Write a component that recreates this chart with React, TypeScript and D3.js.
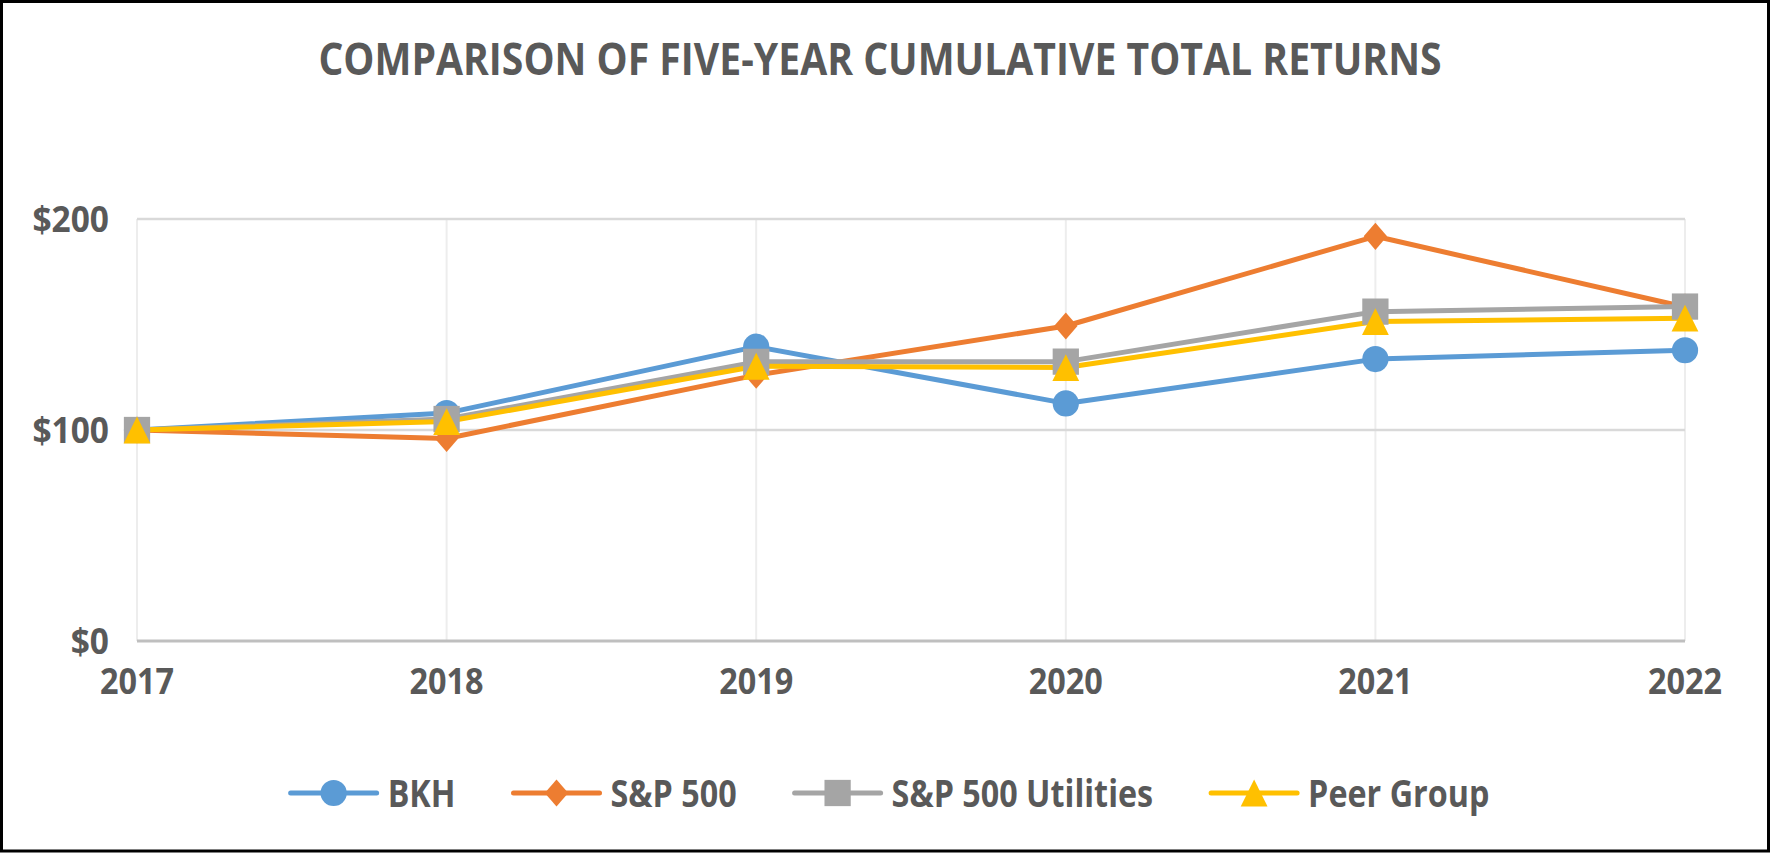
import * as d3 from "d3";
import React, { useEffect, useRef } from "react";

const years = ["2017", "2018", "2019", "2020", "2021", "2022"];
const seriesNames = ["BKH", "S&P 500", "S&P 500 Utilities", "Peer Group"];
const bkh = [100, 108, 139.5, 112.6, 133.6, 137.8];
const sp500 = [100, 96, 126, 149.3, 191.8, 158.3];
const utilities = [100, 105.2, 132.3, 132.4, 156.1, 158.5];
const peerGroup = [100, 104, 130.2, 129.6, 151.4, 153];
const yTicks = [0, 100, 200];
const title = "COMPARISON OF FIVE-YEAR CUMULATIVE TOTAL RETURNS";

const W = 1772;
const H = 854;
const FONT = "'Open Sans', sans-serif";
const TEXT = "#595959";

// custom marker shapes (Excel style: box-centred triangle, upright diamond)
const triangle = {
  draw(ctx: any, size: number) {
    const s = Math.sqrt(size);
    ctx.moveTo(0, -s / 2);
    ctx.lineTo(s / 2, s / 2);
    ctx.lineTo(-s / 2, s / 2);
    ctx.closePath();
  },
};
const diamond = {
  draw(ctx: any, size: number) {
    const s = Math.sqrt(size);
    ctx.moveTo(0, -s / 2);
    ctx.lineTo(s * 0.43, 0);
    ctx.lineTo(0, s / 2);
    ctx.lineTo(-s * 0.43, 0);
    ctx.closePath();
  },
};

const series = [
  { name: seriesNames[0], values: bkh, color: "#5B9BD5", shape: d3.symbolCircle, size: 540 },
  { name: seriesNames[1], values: sp500, color: "#ED7D31", shape: diamond, size: 740 },
  { name: seriesNames[2], values: utilities, color: "#A5A5A5", shape: d3.symbolSquare, size: 690 },
  { name: seriesNames[3], values: peerGroup, color: "#FFC000", shape: triangle, size: 720 },
];

// squeeze Open Sans towards the narrower Calibri look
const condense = (factor: number) => (sel: d3.Selection<SVGTextElement, any, any, any>) => {
  sel.each(function () {
    const len = this.getComputedTextLength();
    d3.select(this)
      .attr("textLength", len * factor)
      .attr("lengthAdjust", "spacingAndGlyphs");
  });
};

const App: React.FC = () => {
  const ref = useRef<SVGSVGElement>(null);

  useEffect(() => {
    if (!ref.current) return;
    const svg = d3.select(ref.current);
    svg.selectAll("*").remove();

    const margin = { top: 219, right: 87, bottom: 213, left: 137 };
    const width = W - margin.left - margin.right;
    const height = H - margin.top - margin.bottom;

    svg.append("rect")
      .attr("x", 1.5).attr("y", 1.5)
      .attr("width", W - 5).attr("height", H - 4.5)
      .attr("fill", "#fff").attr("stroke", "#000").attr("stroke-width", 3);

    svg.append("text")
      .attr("x", 880).attr("y", 75)
      .attr("text-anchor", "middle")
      .attr("font-family", FONT).attr("font-weight", 700)
      .attr("font-size", 45).attr("fill", TEXT)
      .text(title)
      .call(condense(0.87));

    const g = svg.append("g").attr("transform", `translate(${margin.left},${margin.top})`);

    const x = d3.scalePoint().domain(years).range([0, width]);
    const y = d3.scaleLinear().domain([0, 200]).range([height, 0]);

    // vertical gridlines
    g.selectAll(".vgrid").data(years).enter().append("line")
      .attr("x1", (d) => x(d)!).attr("x2", (d) => x(d)!)
      .attr("y1", 0).attr("y2", height)
      .attr("stroke", "#EDEDED").attr("stroke-width", 2);

    // horizontal gridlines
    g.selectAll(".hgrid").data(yTicks).enter().append("line")
      .attr("x1", 0).attr("x2", width)
      .attr("y1", (d) => y(d)).attr("y2", (d) => y(d))
      .attr("stroke", (d) => (d === 0 ? "#BFBFBF" : "#D9D9D9"))
      .attr("stroke-width", (d) => (d === 0 ? 3 : 2.5));

    // y labels
    g.selectAll(".ylab").data(yTicks).enter().append("text")
      .attr("x", -28).attr("y", (d) => y(d))
      .attr("dy", "0.36em")
      .attr("text-anchor", "end")
      .attr("font-family", FONT).attr("font-weight", 700)
      .attr("font-size", 36).attr("fill", TEXT)
      .text((d) => `$${d3.format(",")(d)}`)
      .call(condense(0.93));

    // x labels
    g.selectAll(".xlab").data(years).enter().append("text")
      .attr("x", (d) => x(d)!).attr("y", height + 53)
      .attr("text-anchor", "middle")
      .attr("font-family", FONT).attr("font-weight", 700)
      .attr("font-size", 36).attr("fill", TEXT)
      .text((d) => d)
      .call(condense(0.9));

    const line = d3.line<number>()
      .x((_, i) => x(years[i])!)
      .y((d) => y(d));

    series.forEach((s) => {
      g.append("path")
        .datum(s.values)
        .attr("d", line)
        .attr("fill", "none")
        .attr("stroke", s.color)
        .attr("stroke-width", 5)
        .attr("stroke-linejoin", "round")
        .attr("stroke-linecap", "round");
    });
    series.forEach((s) => {
      g.selectAll(null).data(s.values).enter().append("path")
        .attr("d", d3.symbol(s.shape as any, s.size)())
        .attr("transform", (d, i) => `translate(${x(years[i])},${y(d)})`)
        .attr("fill", s.color);
    });

    // legend
    const legend = svg.append("g");
    const lineLen = 86;
    const gap = 58;
    let cx = 0;
    series.forEach((s) => {
      const item = legend.append("g").attr("transform", `translate(${cx},0)`);
      item.append("line")
        .attr("x1", 0).attr("x2", lineLen)
        .attr("stroke", s.color).attr("stroke-width", 5)
        .attr("stroke-linecap", "round");
      item.append("path")
        .attr("d", d3.symbol(s.shape as any, s.size)())
        .attr("transform", `translate(${lineLen / 2},0)`)
        .attr("fill", s.color);
      const t = item.append("text")
        .attr("x", lineLen + 11).attr("dy", "0.36em")
        .attr("font-family", FONT).attr("font-weight", 700)
        .attr("font-size", 38).attr("fill", TEXT)
        .text(s.name)
        .call(condense(0.85));
      const tw = +t.attr("textLength");
      cx += lineLen + 11 + tw + gap;
    });
    const total = cx - gap;
    legend.attr("transform", `translate(${890 - total / 2},793)`);
  }, []);

  return (
    <div style={{ position: "absolute", left: 0, top: 0 }}>
      <svg ref={ref} width={W} height={H} style={{ display: "block" }} />
    </div>
  );
};

export default App;
